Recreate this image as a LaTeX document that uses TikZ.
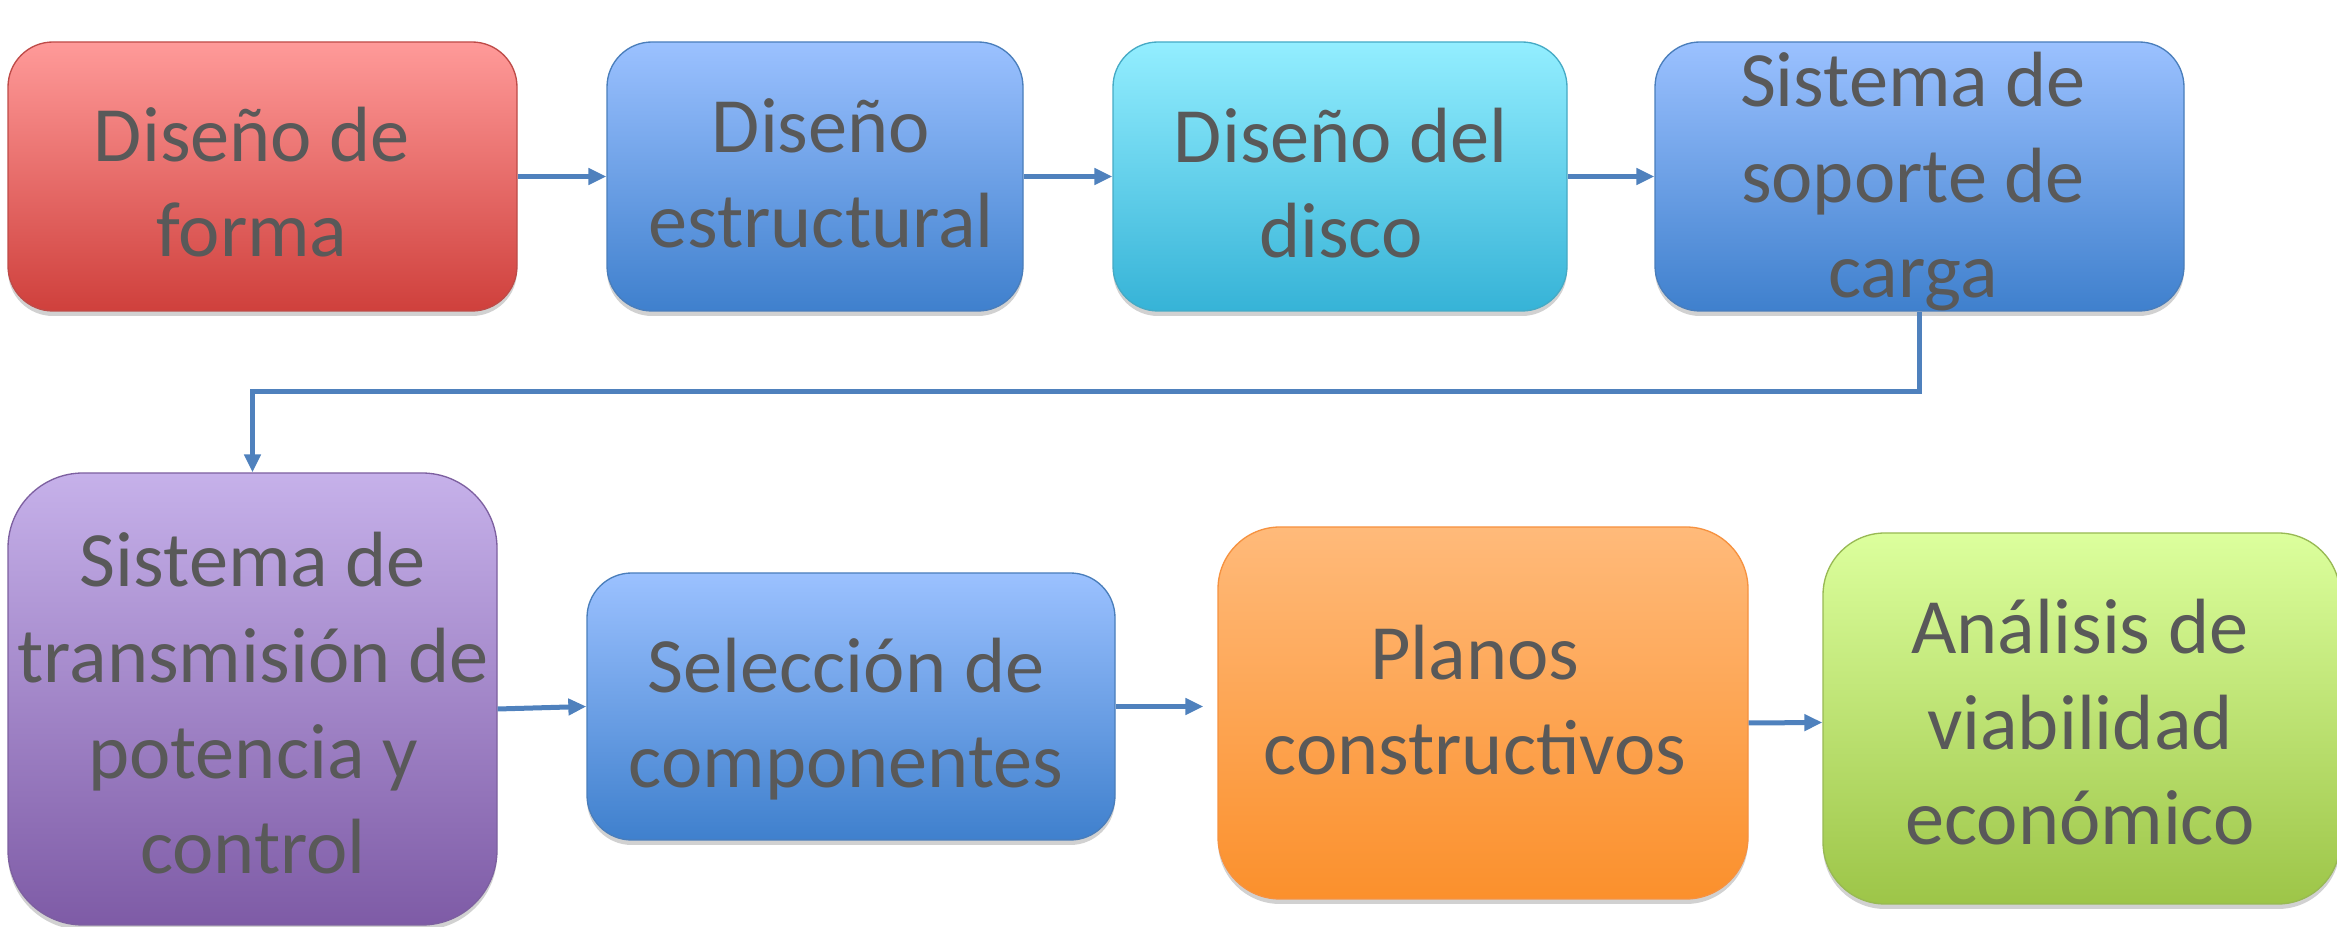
\documentclass[tikz,border=0pt]{standalone}
\usepackage{fontspec}
\setmainfont{Carlito}
\usetikzlibrary{arrows.meta,shadows,calc}
\definecolor{txt}{HTML}{595959}
\definecolor{arr}{HTML}{4F81BD}
\definecolor{rT}{HTML}{FF9A99}\definecolor{rB}{HTML}{CF403C}\definecolor{rD}{HTML}{BE4B48}
\definecolor{bT}{HTML}{9BC1FF}\definecolor{bB}{HTML}{3F80CD}\definecolor{bD}{HTML}{4A7EBB}
\definecolor{cT}{HTML}{93EEFF}\definecolor{cB}{HTML}{36B3D7}\definecolor{cD}{HTML}{46AAC5}
\definecolor{pT}{HTML}{C6B1EA}\definecolor{pB}{HTML}{7E5BA6}\definecolor{pD}{HTML}{7D60A0}
\definecolor{oT}{HTML}{FFBA7A}\definecolor{oB}{HTML}{FB902C}\definecolor{oD}{HTML}{F69240}
\definecolor{gT}{HTML}{DCFF9D}\definecolor{gB}{HTML}{9DC548}\definecolor{gD}{HTML}{98B954}
\begin{document}
\begin{tikzpicture}[x=0.3pt,y=-0.3pt,
  box/.style={inner sep=0pt, line width=0.4pt,
    drop shadow={shadow xshift=0pt, shadow yshift=-1.5pt, opacity=0.18, fill=black}},
  red box/.style={box, draw=rD, top color=rT, bottom color=rB},
  blue box/.style={box, draw=bD, top color=bT, bottom color=bB},
  cyan box/.style={box, draw=cD, top color=cT, bottom color=cB},
  purple box/.style={box, draw=pD, top color=pT, bottom color=pB},
  orange box/.style={box, draw=oD, top color=oT, bottom color=oB},
  green box/.style={box, draw=gD, top color=gT, bottom color=gB},
  lbl/.style={align=center, anchor=base, inner sep=0pt, text=txt,
    font=\fontsize{23.5}{28.7}\selectfont},
  flow/.style={draw=arr, line width=1.5pt, -{Triangle[length=5.4pt,width=4.8pt]}}
]
\useasboundingbox (0,0) rectangle (2337,927);
% boxes
\node[red box, rounded corners=13.5pt, minimum width=152.7pt, minimum height=80.7pt] (b1) at (262.5,176.5) {};
\node[blue box, rounded corners=13.5pt, minimum width=124.8pt, minimum height=80.7pt] (b2) at (815,176.5) {};
\node[cyan box, rounded corners=13.5pt, minimum width=136.2pt, minimum height=80.7pt] (b3) at (1340,176.5) {};
\node[blue box, rounded corners=13.5pt, minimum width=158.7pt, minimum height=80.7pt] (b4) at (1919.5,176.5) {};
\node[purple box, rounded corners=22.5pt, minimum width=146.7pt, minimum height=135.6pt] (b5) at (252.5,699) {};
\node[blue box, rounded corners=13.4pt, minimum width=158.4pt, minimum height=80.1pt] (b6) at (851,706.5) {};
\node[orange box, rounded corners=18.6pt, minimum width=159pt, minimum height=111.6pt] (b7) at (1483,713) {};
\node[green box, rounded corners=18.6pt, minimum width=155.1pt, minimum height=111.3pt] (b8) at (2081.5,718.5) {};
% connectors
\coordinate (m) at (1000,392);
\draw[flow] (b1.east) -- (b2.west);
\draw[flow] (b2.east) -- (b3.west);
\draw[flow] (b3.east) -- (b4.west);
\draw[flow] (b4.south) |- (m) -| (b5.north);
\draw[flow] ($(b5.east)+(0,10)$) -- (b6.west);
\draw[flow] (b6.east) -- ($(b7.west |- b6.east)+(-14,0)$);
\draw[flow] ($(b7.east)+(0,10)$) -- ($(b8.west)+(0,4)$);
% texts (anchor base = baseline of last line)
\node[lbl] (t1) at (252,257) {Diseño de\\forma};
\node[lbl] (t2) at (821,248) {Diseño\\estructural};
\node[lbl] (t3) at (1341,258) {Diseño del\\disco};
\node[lbl] (t4) at (1913,298) {Sistema de\\soporte de\\carga};
\node[lbl] (t5) at (253,874) {Sistema de\\transmisión de\\potencia y\\control};
\node[lbl] (t6) at (846,788) {Selección de\\componentes};
\node[lbl] (t7) at (1475,775) {Planos\\constructivos};
\node[lbl] (t8) at (2080,845) {Análisis de\\viabilidad\\económico};
\end{tikzpicture}
\end{document}
